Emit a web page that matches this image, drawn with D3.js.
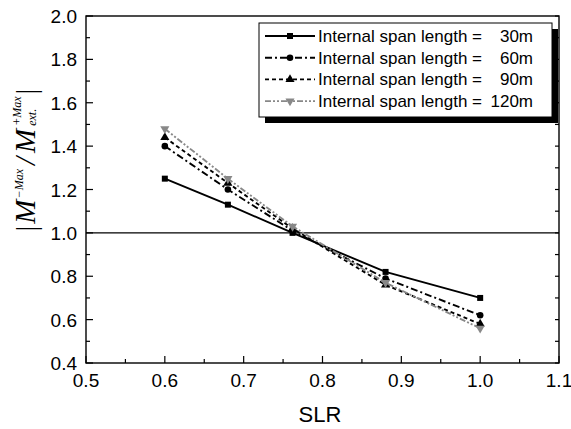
<!DOCTYPE html>
<html>
<head>
<meta charset="utf-8">
<script src="https://cdn.jsdelivr.net/npm/d3@7"></script>
<style>
  body { margin: 0; background: #fff; }
  svg { display: block; }
</style>
</head>
<body>
<div id="chart"></div>
<script>
// SLR values on x
const slr = [0.6, 0.68, 0.762, 0.88, 1.0];
// moment ratio for each internal span length
const span30 = [1.25, 1.13, 1.00, 0.82, 0.70];
const span60 = [1.40, 1.20, 1.01, 0.79, 0.62];
const span90 = [1.44, 1.23, 1.02, 0.76, 0.58];
const span120 = [1.48, 1.25, 1.03, 0.77, 0.56];
const spanLabels = ["30m", "60m", "90m", "120m"];
const xTicks = [0.5, 0.6, 0.7, 0.8, 0.9, 1.0, 1.1];
const yTicks = [0.4, 0.6, 0.8, 1.0, 1.2, 1.4, 1.6, 1.8, 2.0];

const width = 571, height = 429;
const margin = { top: 16, right: 12, bottom: 66, left: 86 };
const innerW = 559 - margin.left;
const innerH = 363 - margin.top;

const svg = d3.select("#chart").append("svg")
    .attr("width", width)
    .attr("height", height);

const x = d3.scaleLinear().domain([0.5, 1.1]).range([margin.left, margin.left + innerW]);
const y = d3.scaleLinear().domain([0.4, 2.0]).range([margin.top + innerH, margin.top]);

const font = "'Liberation Sans', Arial, Helvetica, sans-serif";

// 每条线的样式
const series = [
    { vals: span30, color: "#000", dash: null, marker: d3.symbolSquare, size: 36 },
    { vals: span60, color: "#000", dash: "7,3,2,3", marker: d3.symbolCircle, size: 34 },
    { vals: span90, color: "#000", dash: "4,3", marker: d3.symbolTriangle, size: 36 },
    { vals: span120, color: "#888", dash: "6,2,2,2,2,2", marker: d3.symbolTriangle, size: 36, flip: true },
];

// frame
svg.append("rect")
    .attr("x", margin.left).attr("y", margin.top)
    .attr("width", innerW).attr("height", innerH)
    .attr("fill", "none").attr("stroke", "#000").attr("stroke-width", 1.4);

// ticks (inward)
const g = svg.append("g");
const xMinor = d3.range(0.55, 1.1, 0.1);
const yMinor = d3.range(0.5, 2.0, 0.2);
const bottom = y(0.4), left = x(0.5), right = x(1.1);
xTicks.forEach(t => g.append("line").attr("x1", x(t)).attr("x2", x(t)).attr("y1", bottom).attr("y2", bottom - 7));
xMinor.forEach(t => g.append("line").attr("x1", x(t)).attr("x2", x(t)).attr("y1", bottom).attr("y2", bottom - 4));
yTicks.forEach(t => {
    g.append("line").attr("x1", left).attr("x2", left + 7).attr("y1", y(t)).attr("y2", y(t));
    g.append("line").attr("x1", right).attr("x2", right - 4).attr("y1", y(t)).attr("y2", y(t));
});
yMinor.forEach(t => {
    g.append("line").attr("x1", left).attr("x2", left + 4).attr("y1", y(t)).attr("y2", y(t));
    g.append("line").attr("x1", right).attr("x2", right - 4).attr("y1", y(t)).attr("y2", y(t));
});
g.selectAll("line").attr("stroke", "#000").attr("stroke-width", 1.2);

// tick labels
svg.append("g").selectAll("text").data(xTicks).join("text")
    .attr("x", d => x(d)).attr("y", 387)
    .attr("text-anchor", "middle")
    .attr("font-family", font).attr("font-size", 19)
    .text(d => d3.format(".1f")(d));
svg.append("g").selectAll("text").data(yTicks).join("text")
    .attr("x", 77).attr("y", d => y(d) + 7)
    .attr("text-anchor", "end")
    .attr("font-family", font).attr("font-size", 19)
    .text(d => d3.format(".1f")(d));

// x title
svg.append("text")
    .attr("x", 320).attr("y", 422)
    .attr("text-anchor", "middle")
    .attr("font-family", font).attr("font-size", 22)
    .text("SLR");

// y title: |M^-Max / M^+Max_ext.|
const serif = "'Liberation Serif', 'Times New Roman', serif";
const yl = svg.append("g");
let pos = 0;
function piece(str, size, dy, italic, advance = true) {
    const t = yl.append("text")
        .attr("x", pos).attr("y", dy)
        .attr("font-family", serif).attr("font-size", size)
        .attr("font-style", italic ? "italic" : "normal")
        .text(str);
    const w = t.node().getComputedTextLength();
    if (advance) pos += w;
    return w;
}
piece("|", 29, 1, false);
pos += 2;
piece("M", 29, 0, true);
pos += 1;
piece("\u2212Max", 12, -12, true);
pos += 4;
piece("/", 29, 0, true);
pos += 4;
piece("M", 29, 0, true);
pos += 3;
const w1 = piece("+Max", 12, -14, true, false);
const w2 = piece("ext.", 12, 1, true, false);
pos += Math.max(w1, w2) + 2;
piece("|", 29, 1, false);
yl.attr("transform", `translate(35, ${160 + pos / 2}) rotate(-90)`);

// reference line at 1.0
svg.append("line")
    .attr("x1", left).attr("x2", right)
    .attr("y1", y(1.0)).attr("y2", y(1.0))
    .attr("stroke", "#000").attr("stroke-width", 1.2);

// lines + markers
const line = d3.line().x((d, i) => x(slr[i])).y(d => y(d));
series.forEach(s => {
    svg.append("path")
        .attr("d", line(s.vals))
        .attr("fill", "none")
        .attr("stroke", s.color)
        .attr("stroke-width", 1.9)
        .attr("stroke-dasharray", s.dash);
    svg.append("g").selectAll("path").data(s.vals).join("path")
        .attr("d", d3.symbol(s.marker, s.size))
        .attr("transform", (d, i) => `translate(${x(slr[i])},${y(d)})${s.flip ? " rotate(180)" : ""}`)
        .attr("fill", s.color);
});

// legend
const lg = svg.append("g");
lg.append("rect").attr("x", 265).attr("y", 29).attr("width", 293).attr("height", 94).attr("fill", "#000");
lg.append("rect").attr("x", 259).attr("y", 23).attr("width", 293).attr("height", 94)
    .attr("fill", "#fff").attr("stroke", "#000").attr("stroke-width", 1);
series.forEach((s, i) => {
    const cy = 36 + i * 21.7;
    lg.append("line")
        .attr("x1", 265).attr("x2", 315).attr("y1", cy).attr("y2", cy)
        .attr("stroke", s.color).attr("stroke-width", 1.9)
        .attr("stroke-dasharray", s.dash);
    lg.append("path")
        .attr("d", d3.symbol(s.marker, s.size))
        .attr("transform", `translate(290,${cy})${s.flip ? " rotate(180)" : ""}`)
        .attr("fill", s.color);
    lg.append("text")
        .attr("x", 318).attr("y", cy + 6)
        .attr("font-family", font).attr("font-size", 17)
        .text("Internal span length =");
    lg.append("text")
        .attr("x", 533).attr("y", cy + 6)
        .attr("text-anchor", "end")
        .attr("font-family", font).attr("font-size", 17)
        .text(spanLabels[i]);
});
</script>
</body>
</html>
